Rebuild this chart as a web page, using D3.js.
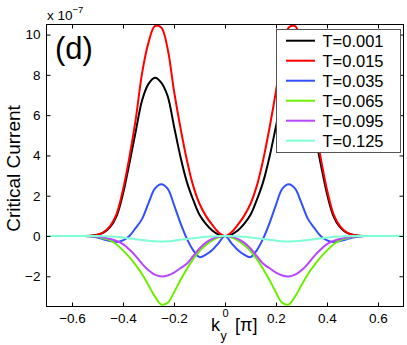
<!DOCTYPE html>
<html>
<head>
<meta charset="utf-8">
<script src="https://cdn.jsdelivr.net/npm/d3@7"></script>
<style>
  body { margin: 0; background: #fff; }
  svg { display: block; }
  text { font-family: "Liberation Sans", Arial, Helvetica, sans-serif; fill: #000; }
</style>
</head>
<body>
<script>
// k_y^0 in units of pi
var kx = [-0.7, -0.65, -0.6,
          -0.55, -0.525, -0.5, -0.475, -0.45, -0.425, -0.4, -0.375, -0.35, -0.325, -0.3, -0.275,
          -0.25, -0.225, -0.2, -0.175, -0.15, -0.125, -0.1, -0.075, -0.05, -0.025, 0,
          0.025, 0.05, 0.075, 0.1, 0.125, 0.15, 0.175, 0.2, 0.225, 0.25,
          0.275, 0.3, 0.325, 0.35, 0.375, 0.4, 0.425, 0.45, 0.475, 0.5, 0.525, 0.55,
          0.6, 0.65, 0.7];

// critical current, x 1e-7
var cT001 = [0, 0, 0, 0, 0.01, 0.06, 0.18, 0.45, 1.0, 2.1, 3.6, 5.2, 6.74, 7.55, 7.86,
             7.62, 6.95, 5.45, 3.95, 2.7, 1.8, 1.05, 0.6, 0.27, 0.07, 0,
             0.07, 0.27, 0.6, 1.05, 1.8, 2.7, 3.95, 5.45, 6.95, 7.62,
             7.86, 7.55, 6.74, 5.2, 3.6, 2.1, 1.0, 0.45, 0.18, 0.06, 0.01, 0, 0, 0, 0];
var cT015 = [0, 0, 0, 0, 0.01, 0.07, 0.2, 0.5, 1.1, 2.3, 3.9, 5.8, 8.1, 9.6, 10.42,
             10.35, 9.3, 7.2, 5.4, 3.8, 2.5, 1.6, 1.0, 0.55, 0.18, 0,
             0.18, 0.55, 1.0, 1.6, 2.5, 3.8, 5.4, 7.2, 9.3, 10.35,
             10.42, 9.6, 8.1, 5.8, 3.9, 2.3, 1.1, 0.5, 0.2, 0.07, 0.01, 0, 0, 0, 0];
var cT035 = [0, 0, 0, 0, -0.02, -0.08, -0.17, -0.25, -0.3, -0.22, 0, 0.4, 0.85, 1.63, 2.35,
             2.57, 2.35, 1.55, 0.65, -0.12, -0.7, -1.05, -0.93, -0.7, -0.35, 0,
             -0.35, -0.7, -0.93, -1.05, -0.7, -0.12, 0.65, 1.55, 2.35, 2.57,
             2.35, 1.63, 0.85, 0.4, 0, -0.22, -0.3, -0.25, -0.17, -0.08, -0.02, 0, 0, 0, 0];
var cT065 = [0, 0, 0, 0, -0.01, -0.04, -0.12, -0.22, -0.42, -0.72, -1.05, -1.45, -1.9, -2.45, -3.0,
             -3.4, -3.32, -2.8, -2.2, -1.65, -1.15, -0.75, -0.45, -0.22, -0.07, 0,
             -0.07, -0.22, -0.45, -0.75, -1.15, -1.65, -2.2, -2.8, -3.32, -3.4,
             -3.0, -2.45, -1.9, -1.45, -1.05, -0.72, -0.42, -0.22, -0.12, -0.04, -0.01, 0, 0, 0, 0];
var cT095 = [0, 0, 0, 0, -0.01, -0.03, -0.08, -0.15, -0.25, -0.4, -0.67, -1.0, -1.38, -1.7, -1.92,
             -2.01, -1.96, -1.82, -1.6, -1.38, -1.0, -0.62, -0.33, -0.14, -0.03, 0,
             -0.03, -0.14, -0.33, -0.62, -1.0, -1.38, -1.6, -1.82, -1.96, -2.01,
             -1.92, -1.7, -1.38, -1.0, -0.67, -0.4, -0.25, -0.15, -0.08, -0.03, -0.01, 0, 0, 0, 0];
var cT125 = [0, 0, 0, 0, 0, 0, -0.01, -0.02, -0.04, -0.08, -0.12, -0.16, -0.2, -0.24, -0.26,
             -0.27, -0.26, -0.23, -0.19, -0.15, -0.11, -0.07, -0.04, -0.02, 0, 0,
             0, -0.02, -0.04, -0.07, -0.11, -0.15, -0.19, -0.23, -0.26, -0.27,
             -0.26, -0.24, -0.2, -0.16, -0.12, -0.08, -0.04, -0.02, -0.01, 0, 0, 0, 0, 0, 0];

var seriesNames = ['T=0.001', 'T=0.015', 'T=0.035', 'T=0.065', 'T=0.095', 'T=0.125'];
var seriesColors = ['#000000', '#ff0000', '#3050ff', '#6cf000', '#b845ff', '#7fffd4'];

var xTicks = [-0.6, -0.4, -0.2, 0, 0.2, 0.4, 0.6];
var yTicks = [-2, 0, 2, 4, 6, 8, 10];

var width = 407, height = 345;
var plotLeft = 46.5, plotRight = 403.5, plotTop = 24.5, plotBottom = 306.5;

var svg = d3.select('body').append('svg')
    .attr('width', width)
    .attr('height', height);

var x = d3.scaleLinear().domain([-0.7, 0.7]).range([plotLeft, plotRight]);
var y = d3.scaleLinear().domain([-3.5, 10.5]).range([plotBottom, plotTop]);

var fmt = d3.format('.1f');

svg.append('clipPath').attr('id', 'plotclip')
  .append('rect')
    .attr('x', plotLeft).attr('y', plotTop - 1)
    .attr('width', plotRight - plotLeft).attr('height', plotBottom - plotTop + 1);

// curves
var series = [cT001, cT015, cT035, cT065, cT095, cT125].map(function(vals, i) {
    return { name: seriesNames[i], color: seriesColors[i],
             pts: vals.map(function(v, j) { return [kx[j], v]; }) };
});

var line = d3.line()
    .x(function(d) { return x(d[0]); })
    .y(function(d) { return y(d[1]); })
    .curve(d3.curveCatmullRom.alpha(0.5));

svg.append('g').attr('clip-path', 'url(#plotclip)')
  .selectAll('path')
  .data(series)
  .enter().append('path')
    .attr('fill', 'none')
    .attr('stroke', function(d) { return d.color; })
    .attr('stroke-width', 2)
    .attr('d', function(d) { return line(d.pts); });

// axes, ticks pointing inwards on all four sides
function styleAxis(g) {
    g.select('.domain').remove();
    g.selectAll('.tick line').attr('stroke', '#000');
    g.selectAll('.tick text')
        .style('font-family', '"Liberation Sans", Arial, sans-serif')
        .style('font-size', '13.5px')
        .attr('fill', '#000');
}

svg.append('g')
    .attr('transform', 'translate(0,' + plotBottom + ')')
    .call(d3.axisBottom(x).tickValues(xTicks)
        .tickFormat(function(d) { return d === 0 ? '' : fmt(d); })
        .tickSizeInner(-4).tickSizeOuter(0).tickPadding(7))
    .call(styleAxis);

svg.append('g')
    .attr('transform', 'translate(0,' + plotTop + ')')
    .call(d3.axisTop(x).tickValues(xTicks).tickFormat('')
        .tickSizeInner(-4).tickSizeOuter(0))
    .call(styleAxis);

svg.append('g')
    .attr('transform', 'translate(' + plotLeft + ',0)')
    .call(d3.axisLeft(y).tickValues(yTicks)
        .tickSizeInner(-4).tickSizeOuter(0).tickPadding(6))
    .call(styleAxis);

svg.append('g')
    .attr('transform', 'translate(' + plotRight + ',0)')
    .call(d3.axisRight(y).tickValues(yTicks).tickFormat('')
        .tickSizeInner(-4).tickSizeOuter(0))
    .call(styleAxis);

svg.append('rect')
    .attr('x', plotLeft).attr('y', plotTop)
    .attr('width', plotRight - plotLeft).attr('height', plotBottom - plotTop)
    .attr('fill', 'none')
    .attr('stroke', '#000')
    .attr('stroke-width', 1);

// exponent
var expo = svg.append('text')
    .attr('x', plotLeft + 0.5).attr('y', 20)
    .style('font-size', '13.5px');
expo.append('tspan').text('x 10');
expo.append('tspan').attr('dy', -7).style('font-size', '9.5px').text('\u22127');

// panel tag
svg.append('text')
    .attr('x', 55).attr('y', 58.5)
    .style('font-size', '31px')
    .text('(d)');

// axis labels
svg.append('text')
    .attr('transform', 'translate(20,168.5) rotate(-90)')
    .attr('text-anchor', 'middle')
    .style('font-size', '19px')
    .text('Critical Current');

svg.append('text').attr('x', 211).attr('y', 331).style('font-size', '18px').text('k');
svg.append('text').attr('x', 220.5).attr('y', 339.5).style('font-size', '12.5px').text('y');
svg.append('text').attr('x', 222.5).attr('y', 317).style('font-size', '11px').text('0');
svg.append('text').attr('x', 235).attr('y', 331).style('font-size', '18px').text('[\u03c0]');

// legend
var legend = svg.append('g');
legend.append('rect')
    .attr('x', 276.5).attr('y', 29.5)
    .attr('width', 124).attr('height', 123)
    .attr('fill', '#fff')
    .attr('stroke', '#555')
    .attr('stroke-width', 1);

var item = legend.selectAll('g.item')
    .data(series)
  .enter().append('g')
    .attr('class', 'item')
    .attr('transform', function(d, i) { return 'translate(0,' + (40.7 + i * 20) + ')'; });

item.append('line')
    .attr('x1', 286).attr('x2', 315)
    .attr('stroke', function(d) { return d.color; })
    .attr('stroke-width', 2);

item.append('text')
    .attr('x', 322.5).attr('y', 6)
    .style('font-size', '16.5px')
    .text(function(d) { return d.name; });
</script>
</body>
</html>
